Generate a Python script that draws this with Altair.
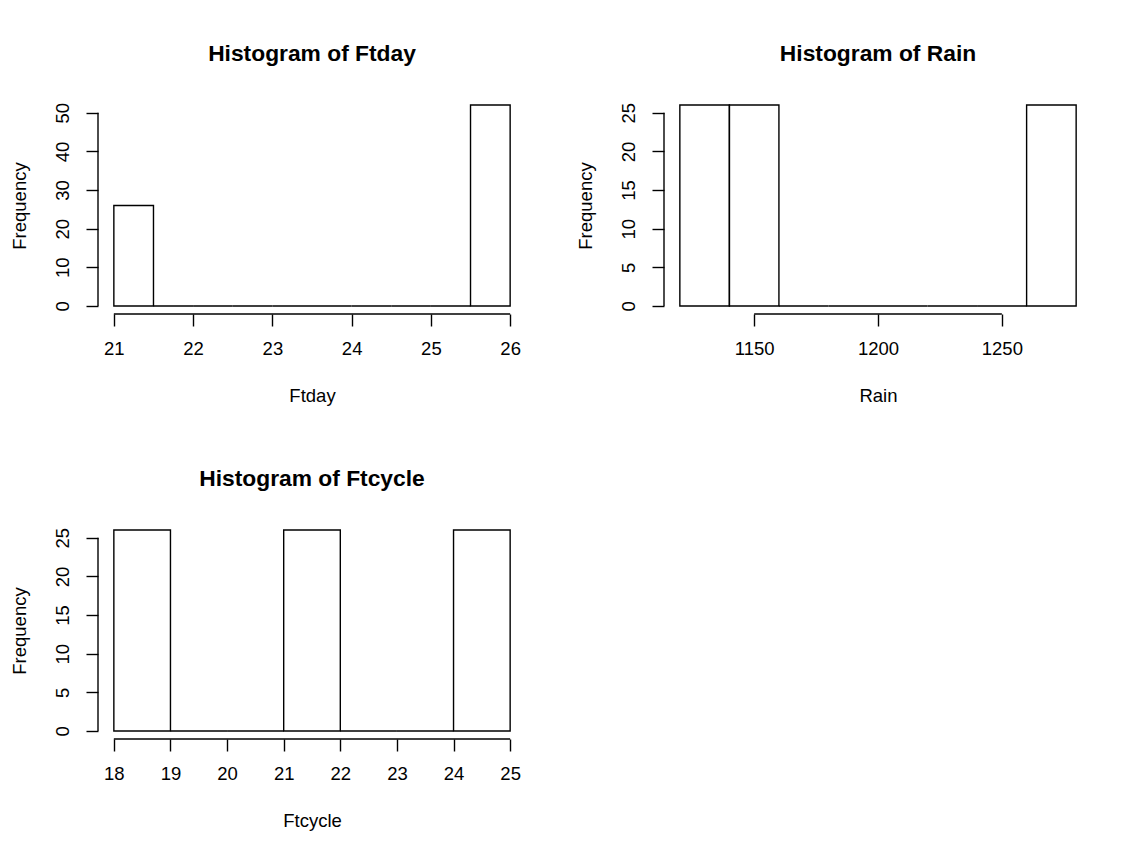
import altair as alt
import pandas as pd

# ---- data (R base-graphics histograms) ----
ftday_breaks = [21.0, 21.5, 22.0, 22.5, 23.0, 23.5, 24.0, 24.5, 25.0, 25.5, 26.0]
ftday_counts = [26, 0, 0, 0, 0, 0, 0, 0, 0, 52]
ftday_xticks = [21, 22, 23, 24, 25, 26]
ftday_yticks = [0, 10, 20, 30, 40, 50]

rain_breaks = [1120, 1140, 1160, 1180, 1200, 1220, 1240, 1260, 1280]
rain_counts = [26, 26, 0, 0, 0, 0, 0, 26]
rain_xticks = [1150, 1200, 1250]
rain_yticks = [0, 5, 10, 15, 20, 25]

ftcycle_breaks = [18, 19, 20, 21, 22, 23, 24, 25]
ftcycle_counts = [26, 0, 0, 26, 0, 0, 26]
ftcycle_xticks = [18, 19, 20, 21, 22, 23, 24, 25]
ftcycle_yticks = [0, 5, 10, 15, 20, 25]

FONT = "Liberation Sans"
LINE = "black"
LW = 1.4
W, H = 428, 217


def panel(name, breaks, counts, xticks, yticks):
    df = pd.DataFrame({"lo": breaks[:-1], "hi": breaks[1:], "n": counts,
                       "base": [0] * len(counts)})
    xlo, xhi = breaks[0], breaks[-1]
    ylo, yhi = 0, max(counts)
    xp = 0.04 * (xhi - xlo)
    yp = 0.04 * (yhi - ylo)
    xdom = [xlo - xp, xhi + xp]
    ydom = [ylo - yp, yhi + yp]
    xs = alt.Scale(domain=xdom, nice=False, zero=False)
    ys = alt.Scale(domain=ydom, nice=False, zero=False)

    xaxis = alt.Axis(values=xticks, domain=False, grid=False, tickSize=12,
                     tickWidth=LW, tickColor=LINE, labelFontSize=18.5,
                     labelColor="black", labelPadding=28, labelBaseline="alphabetic",
                     labelFlush=False, labelOverlap=False, format="d",
                     titleFontSize=18.5, titleFontWeight="normal", titleColor="black",
                     titleBaseline="alphabetic", titleX=W / 2, titleY=87)
    yaxis = alt.Axis(values=yticks, domain=False, grid=False, tickSize=12,
                     tickWidth=LW, tickColor=LINE, labelFontSize=18.5,
                     labelColor="black", labelPadding=18, labelAngle=270,
                     labelAlign="center", labelBaseline="alphabetic",
                     labelFlush=False, labelOverlap=False, format="d",
                     titleFontSize=18.5, titleFontWeight="normal", titleColor="black",
                     titleAngle=270, titleAlign="center", titleBaseline="alphabetic",
                     titleX=-73, titleY=H / 2)

    bars = alt.Chart(df).mark_rect(fill="transparent", stroke=LINE,
                                   strokeWidth=LW).encode(
        x=alt.X("lo:Q", scale=xs, axis=xaxis, title=name),
        x2="hi:Q",
        y=alt.Y("n:Q", scale=ys, axis=yaxis, title="Frequency"),
        y2="base:Q",
    )

    xline_df = pd.DataFrame({"a": [xticks[0]], "b": [xticks[-1]], "y": [ydom[0]]})
    xline = alt.Chart(xline_df).mark_rule(color=LINE, strokeWidth=LW).encode(
        x=alt.X("a:Q", scale=xs, title=name),
        x2="b:Q",
        y=alt.Y("y:Q", scale=ys, title="Frequency"),
    )
    yline_df = pd.DataFrame({"x": [xdom[0]], "a": [yticks[0]], "b": [yticks[-1]]})
    yline = alt.Chart(yline_df).mark_rule(color=LINE, strokeWidth=LW).encode(
        x=alt.X("x:Q", scale=xs, title=name),
        y=alt.Y("a:Q", scale=ys, title="Frequency"),
        y2="b:Q",
    )
    return alt.layer(bars, xline, yline).properties(
        width=W, height=H,
        title=alt.Title("Histogram of " + name, fontSize=22.8, fontWeight="bold",
                        color="black", anchor="middle", frame="group",
                        baseline="alphabetic", offset=13),
    )


p1 = panel("Ftday", ftday_breaks, ftday_counts, ftday_xticks, ftday_yticks)
p2 = panel("Rain", rain_breaks, rain_counts, rain_xticks, rain_yticks)
p3 = panel("Ftcycle", ftcycle_breaks, ftcycle_counts, ftcycle_xticks, ftcycle_yticks)

chart = alt.concat(p1, p2, p3, columns=2, spacing={"row": 208, "column": 138},
                   bounds="flush").properties(
    padding={"left": 10, "top": 43, "right": 5, "bottom": 5},
    background="white",
).configure(font=FONT).configure_view(strokeWidth=0)

chart.save("out.html", embed_options={"renderer": "svg", "actions": False})
